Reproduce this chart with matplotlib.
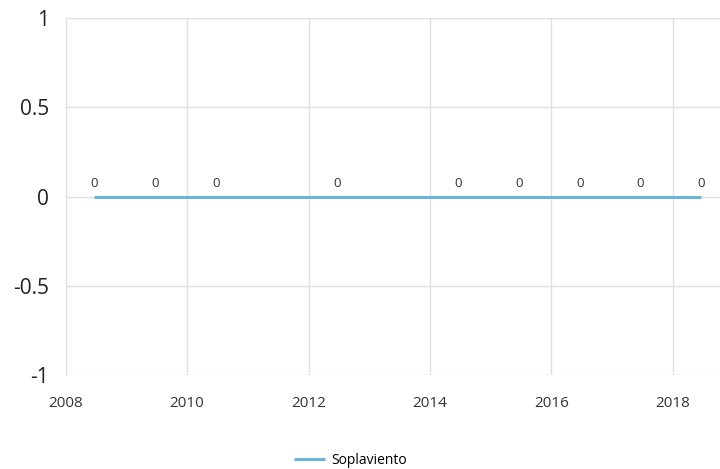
import matplotlib
matplotlib.use("Agg")
import matplotlib.pyplot as plt

years = [2008.47, 2009.47, 2010.47, 2012.47, 2014.47, 2015.47, 2016.47, 2017.47, 2018.47]
values = [0, 0, 0, 0, 0, 0, 0, 0, 0]
series_name = "Soplaviento"
x_ticks = [2008, 2010, 2012, 2014, 2016, 2018]
y_ticks = [-1, -0.5, 0, 0.5, 1]
y_tick_labels = ["-1", "-0.5", "0", "0.5", "1"]

plt.rcParams['font.family'] = ['Open Sans', 'DejaVu Sans']

fig = plt.figure(figsize=(7.2, 4.69), dpi=100)
ax = fig.add_axes([0.0913, 0.2004, 1 - 0.0913, 0.9616 - 0.2004])

line_color = "#6cb4dc"
ax.plot(years, values, color=line_color, lw=2.2, label=series_name, solid_capstyle="butt", zorder=3)
for x, v in zip(years, values):
    ax.annotate(f"{v}", (x, v), xytext=(0, 5), textcoords="offset points",
                ha="center", va="bottom", fontsize=9.5, color="#333333")

ax.set_xlim(2008, 2018.78)
ax.set_ylim(-1, 1)
ax.set_xticks(x_ticks)
ax.set_xticklabels([str(t) for t in x_ticks], fontsize=11, color="#333333")
ax.set_yticks(y_ticks)
ax.set_yticklabels(y_tick_labels, fontsize=15, color="#222222")
ax.tick_params(axis="x", length=0, pad=15)
ax.tick_params(axis="y", length=0, pad=12)
ax.grid(True, color="#e0e0e0", lw=1)
ax.set_axisbelow(True)
for s in ["top", "right", "bottom"]:
    ax.spines[s].set_visible(False)
ax.spines["left"].set_color("#e0e0e0")

fig.legend(loc="center", bbox_to_anchor=(0.487, 0.019), frameon=False, fontsize=10,
           handlelength=2.2, handletextpad=0.5)

fig.savefig("out.png", dpi=100)
